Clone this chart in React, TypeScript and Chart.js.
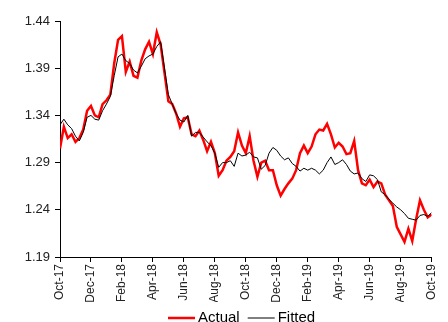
import { useEffect, useRef } from 'react';
import { Chart, registerables } from 'chart.js';

Chart.register(...registerables);

// x axis: months since start of Oct-17, one observation per ~week (0.25 month)
const monthTickPositions = [0, 2, 4, 6, 8, 10, 12, 14, 16, 18, 20, 22, 24];
const monthLabels = ['Oct-17', 'Dec-17', 'Feb-18', 'Apr-18', 'Jun-18', 'Aug-18', 'Oct-18', 'Dec-18', 'Feb-19', 'Apr-19', 'Jun-19', 'Aug-19', 'Oct-19'];
const yTicks = [1.19, 1.24, 1.29, 1.34, 1.39, 1.44];
const monthsPerObs = 0.25;

const actual = [
  1.305, 1.328, 1.316, 1.320, 1.312, 1.316, 1.325, 1.345, 1.350, 1.340,
  1.338, 1.352, 1.356, 1.362, 1.395, 1.420, 1.424, 1.386, 1.397, 1.382,
  1.380, 1.398, 1.410, 1.418, 1.405, 1.428, 1.415, 1.385, 1.355, 1.352,
  1.342, 1.328, 1.337, 1.338, 1.320, 1.318, 1.324, 1.314, 1.302, 1.312,
  1.300, 1.276, 1.282, 1.292, 1.296, 1.302, 1.322, 1.308, 1.300, 1.318,
  1.292, 1.275, 1.290, 1.292, 1.282, 1.282, 1.266, 1.255, 1.262, 1.268,
  1.273, 1.282, 1.300, 1.308, 1.300, 1.307, 1.320, 1.325, 1.324, 1.331,
  1.320, 1.306, 1.311, 1.307, 1.299, 1.300, 1.313, 1.282, 1.268, 1.266,
  1.272, 1.264, 1.270, 1.268, 1.256, 1.250, 1.244, 1.222, 1.214, 1.206,
  1.220, 1.207, 1.230, 1.250, 1.240, 1.232, 1.235,
];

const fitted = [
  1.330, 1.336, 1.330, 1.326, 1.318, 1.313, 1.322, 1.338, 1.340, 1.336,
  1.335, 1.345, 1.352, 1.360, 1.382, 1.402, 1.405, 1.398, 1.395, 1.388,
  1.385, 1.392, 1.400, 1.403, 1.405, 1.413, 1.418, 1.390, 1.362, 1.352,
  1.342, 1.335, 1.333, 1.340, 1.318, 1.322, 1.322, 1.317, 1.312, 1.308,
  1.300, 1.285, 1.290, 1.290, 1.292, 1.286, 1.300, 1.297, 1.298, 1.301,
  1.296, 1.295, 1.283, 1.287, 1.300, 1.306, 1.303, 1.297, 1.293, 1.295,
  1.289, 1.286, 1.281, 1.284, 1.282, 1.284, 1.282, 1.278, 1.282, 1.290,
  1.296, 1.288, 1.290, 1.293, 1.288, 1.281, 1.278, 1.279, 1.273, 1.270,
  1.277, 1.276, 1.272, 1.259, 1.256, 1.251, 1.247, 1.243, 1.240, 1.236,
  1.231, 1.230, 1.229, 1.234, 1.235, 1.233, 1.237,
];

const FONT = 'Liberation Sans, Arial, sans-serif';

// legend drawn below the axis, in legend order (Actual, Fitted)
const legendLayout = { y: 318, startX: 168, lineLen: 27, textGap: 3, itemGap: 8, fontSize: 15 };

const legendPlugin = {
  id: 'bottomLegend',
  afterDraw(chart: any) {
    const ctx = chart.ctx as CanvasRenderingContext2D;
    const ds = [...chart.data.datasets].reverse();
    const L = legendLayout;
    ctx.save();
    ctx.font = `${L.fontSize}px ${FONT}`;
    ctx.textBaseline = 'middle';
    ctx.textAlign = 'left';
    let x = L.startX;
    for (const d of ds) {
      ctx.beginPath();
      ctx.strokeStyle = d.borderColor;
      ctx.lineWidth = d.borderWidth;
      ctx.moveTo(x, L.y);
      ctx.lineTo(x + L.lineLen, L.y);
      ctx.stroke();
      x += L.lineLen + L.textGap;
      ctx.fillStyle = '#000';
      ctx.fillText(d.label, x, L.y);
      x += ctx.measureText(d.label).width + L.itemGap;
    }
    ctx.restore();
  },
};

export default function App() {
  const ref = useRef<HTMLCanvasElement>(null);

  useEffect(() => {
    document.body.style.margin = '0';
    const canvas = ref.current;
    if (!canvas) return;
    const toPoints = (arr: number[]) => arr.map((y, i) => ({ x: i * monthsPerObs, y }));
    const chart = new Chart(canvas, {
      type: 'line',
      data: {
        datasets: [
          {
            label: 'Fitted',
            data: toPoints(fitted),
            borderColor: '#000000',
            backgroundColor: '#000000',
            borderWidth: 1,
            pointRadius: 0,
            tension: 0,
          },
          {
            label: 'Actual',
            data: toPoints(actual),
            borderColor: '#ff0000',
            backgroundColor: '#ff0000',
            borderWidth: 2.5,
            pointRadius: 0,
            tension: 0,
          },
        ],
      },
      options: {
        responsive: false,
        animation: false,
        layout: { padding: { top: 21, right: 13, left: 0, bottom: 20 } },
        plugins: {
          legend: { display: false },
          tooltip: { enabled: false },
        },
        scales: {
          x: {
            type: 'linear',
            min: 0,
            max: 24,
            afterBuildTicks: (s: any) => {
              s.ticks = monthTickPositions.map((v) => ({ value: v }));
            },
            afterFit: (s: any) => {
              s.height = 45;
            },
            ticks: {
              autoSkip: false,
              minRotation: 90,
              maxRotation: 90,
              padding: 2,
              color: '#222',
              font: { family: FONT, size: 12 },
              callback: (_v: any, i: number) => monthLabels[i],
            },
            grid: { display: true, drawOnChartArea: false, drawTicks: true, tickLength: 5, color: '#000' },
            border: { color: '#000', width: 1 },
          },
          y: {
            min: 1.19,
            max: 1.44,
            afterBuildTicks: (s: any) => {
              s.ticks = yTicks.map((v) => ({ value: v }));
            },
            afterFit: (s: any) => {
              s.width = 60;
            },
            ticks: {
              padding: 5,
              color: '#222',
              font: { family: FONT, size: 13 },
              callback: (v: any) => Number(v).toFixed(2),
            },
            grid: { display: true, drawOnChartArea: false, drawTicks: true, tickLength: 5, color: '#000' },
            border: { color: '#000', width: 1 },
          },
        },
      },
      plugins: [legendPlugin],
    } as any);
    return () => chart.destroy();
  }, []);

  return (
    <div style={{ width: 448, height: 322, overflow: 'hidden' }}>
      <canvas ref={ref} width={448} height={322} style={{ display: 'block' }} />
    </div>
  );
}
